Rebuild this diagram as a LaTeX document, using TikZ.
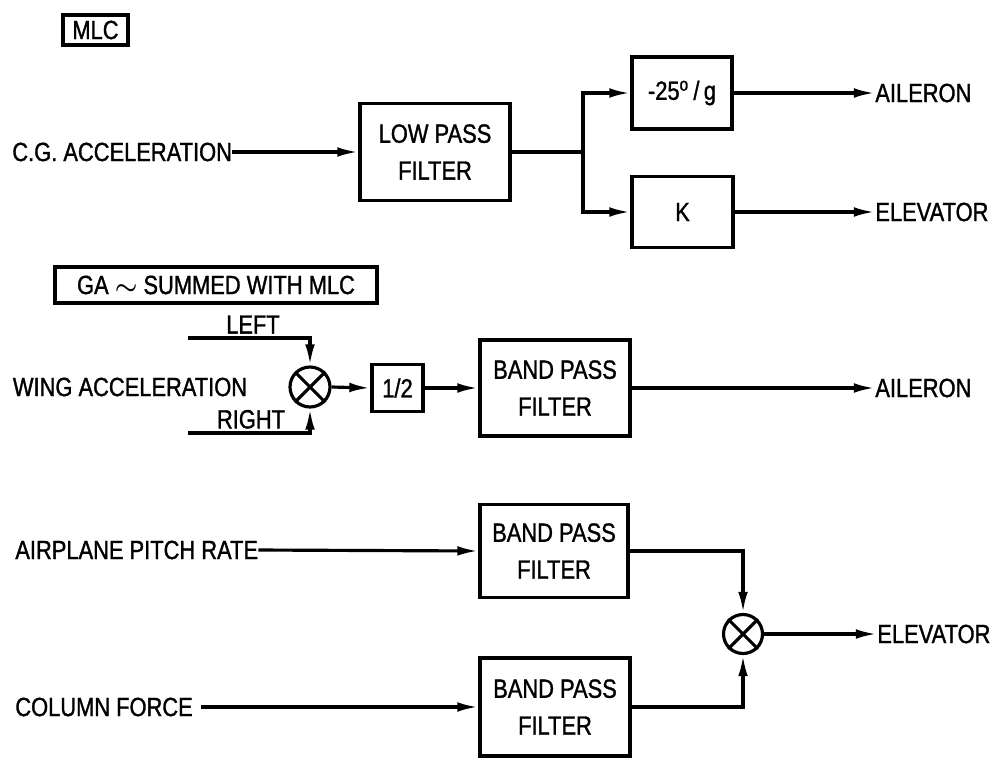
\documentclass[tikz,border=0pt]{standalone}
\usepackage{fontspec}
\setmainfont[FakeStretch=0.83,FakeBold=1.2]{Liberation Sans}
\usetikzlibrary{arrows.meta}
\begin{document}
\begin{tikzpicture}[x=0.02cm,y=-0.02cm,
  font=\fontsize{15}{17}\selectfont,
  blk/.style={draw,line width=1.8pt,rectangle,inner sep=0pt,align=center},
  lbl/.style={inner sep=0pt},
  sumj/.style={draw,circle,line width=1.8pt,minimum size=0.8cm,inner sep=0pt},
  conn/.style={line width=1.8pt},
  arr/.style={conn,-{Latex[length=12pt,width=5.5pt]}}]
\useasboundingbox (0,0) rectangle (999,771);
% MLC section
\node[blk,minimum width=1.3cm,minimum height=0.6cm] (mlc) at (95.5,30) {MLC};
\node[blk,minimum width=3.0cm,minimum height=1.94cm] (lpf) at (435,152) {LOW PASS\\[4pt]FILTER};
\node[blk,minimum width=2.0cm,minimum height=1.44cm] (gain) at (682,93) {-25\textsuperscript{o}\,/\,g};
\node[blk,minimum width=2.02cm,minimum height=1.42cm] (kbox) at (682.5,212) {K};
\node[lbl,anchor=west] (cg) at (12,152) {C.G. ACCELERATION};
\node[lbl,anchor=west] (ail1) at (875,93) {AILERON};
\node[lbl,anchor=west] (elev1) at (875,212) {ELEVATOR};
\coordinate (br) at (583,152);
\draw[arr] (cg.east) -- (lpf.west);
\draw[conn] (lpf.east) -- (br);
\draw[arr] (br) |- (gain.west);
\draw[arr] (br) |- (kbox.west);
\draw[arr] (gain.east) -- (ail1.west);
\draw[arr] (kbox.east) -- (elev1.west);
% GA section
\node[blk,minimum width=6.44cm,minimum height=0.72cm] (ga) at (216,285) {GA {\Large\boldmath$\sim$} SUMMED WITH MLC};
\node[sumj] (s1) at (310,387) {};
\draw[line width=1.8pt] (s1.north west) -- (s1.south east) (s1.north east) -- (s1.south west);
\node[lbl] (wing) at (130,387) {WING ACCELERATION};
\node[lbl,anchor=south] (left) at (253,334) {LEFT};
\node[lbl,anchor=south] (right) at (251,429) {RIGHT};
\coordinate (lin) at (188,338);
\coordinate (rin) at (188,433);
\draw[arr] (lin) -| (s1.north);
\draw[arr] (rin) -| (s1.south);
\node[blk,minimum width=1.02cm,minimum height=0.94cm] (half) at (397.5,388) {1/2};
\node[blk,minimum width=3.0cm,minimum height=1.92cm] (bpf1) at (555,388) {BAND PASS\\[4pt]FILTER};
\node[lbl,anchor=west] (ail2) at (875,388) {AILERON};
\draw[arr] (s1.east) -- (half.west);
\draw[arr] (half.east) -- (bpf1.west);
\draw[arr] (bpf1.east) -- (ail2.west);
% Pitch section
\node[blk,minimum width=2.96cm,minimum height=1.86cm] (bpf2) at (554,551) {BAND PASS\\[4pt]FILTER};
\node[blk,minimum width=3.0cm,minimum height=1.96cm] (bpf3) at (555,707) {BAND PASS\\[4pt]FILTER};
\node[lbl,anchor=west] (apr) at (15,550) {AIRPLANE PITCH RATE};
\node[lbl,anchor=west] (cf) at (15,707) {COLUMN FORCE};
\node[sumj,minimum size=0.78cm] (s2) at (743,634) {};
\draw[line width=1.8pt] (s2.north west) -- (s2.south east) (s2.north east) -- (s2.south west);
\node[lbl,anchor=west] (elev2) at (877,634) {ELEVATOR};
\draw[arr] (apr.east) -- (bpf2.west);
\draw[arr] ([xshift=0.15cm]cf.east) -- (bpf3.west);
\draw[arr] (bpf2.east) -| (s2.north);
\draw[arr] (bpf3.east) -| (s2.south);
\draw[arr] (s2.east) -- (elev2.west);
\end{tikzpicture}
\end{document}
